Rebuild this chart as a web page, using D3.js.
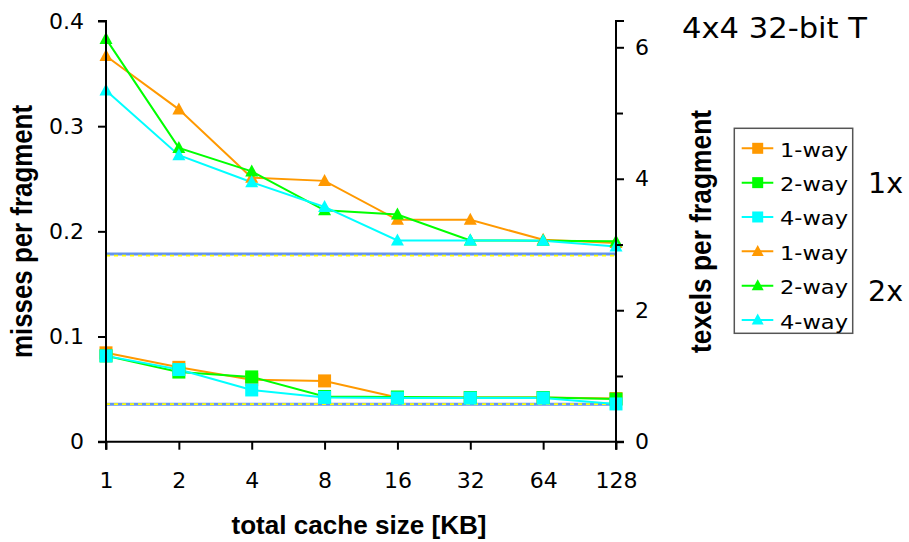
<!DOCTYPE html>
<html><head><meta charset="utf-8">
<script src="https://cdn.jsdelivr.net/npm/d3@7"></script>
<style>body{margin:0;background:#fff}svg{display:block}</style>
</head><body>
<svg id="chart" width="909" height="542"></svg>
<script>
const sizes = ["1","2","4","8","16","32","64","128"];
const sq1way = [0.0845, 0.0707, 0.059, 0.0578, 0.042, 0.042, 0.042, 0.041];
const sq2way = [0.0816, 0.0662, 0.0616, 0.043, 0.0425, 0.042, 0.042, 0.0405];
const sq4way = [0.0816, 0.0686, 0.0492, 0.0421, 0.0415, 0.0415, 0.0415, 0.0359];
const tri1way = [0.3667, 0.316, 0.251, 0.248, 0.211, 0.211, 0.192, 0.189];
const tri2way = [0.383, 0.2794, 0.257, 0.220, 0.216, 0.1914, 0.191, 0.1905];
const tri4way = [0.334, 0.2724, 0.2467, 0.2232, 0.1914, 0.1914, 0.191, 0.1857];
const blueRefs = [0.1785, 0.0356];
const yellowRefs = [0.1769, 0.0357];
const leftTicks = [0, 0.1, 0.2, 0.3, 0.4];
const rightTicks = [0, 2, 4, 6];
const rightMinor = [1, 3, 5];
const legendLabels = ["1-way","2-way","4-way","1-way","2-way","4-way"];

const colors = ["#FF9900", "#00FF00", "#00FFFF"];
const svg = d3.select("#chart");
const L = 106, R = 616, T = 21, B = 441.7;

const x = d3.scalePoint().domain(sizes).range([L, R]).padding(0);
const yL = d3.scaleLinear().domain([0, 0.4]).range([B, T]);
const yR = d3.scaleLinear().domain([0, 6.4]).range([B, T]);

// reference lines
blueRefs.forEach(v => svg.append("line").attr("x1", L).attr("x2", R)
  .attr("y1", yL(v)).attr("y2", yL(v)).attr("stroke", "#6495ED").attr("stroke-width", 3));
yellowRefs.forEach(v => svg.append("line").attr("x1", L).attr("x2", R)
  .attr("y1", yL(v)).attr("y2", yL(v)).attr("stroke", "#FFFF00").attr("stroke-width", 1.8)
  .attr("stroke-dasharray", "4,4"));

const sqSeries = [sq1way, sq2way, sq4way];
const triSeries = [tri1way, tri2way, tri4way];
const line = d3.line().x((d, i) => x(sizes[i])).y(d => yL(d));

[...sqSeries, ...triSeries].forEach((s, k) => {
  svg.append("path").attr("d", line(s)).attr("fill", "none")
    .attr("stroke", colors[k % 3]).attr("stroke-width", 2);
});

const triPath = (w, h) => `M0,${-h * 0.58}L${w / 2},${h * 0.42}L${-w / 2},${h * 0.42}Z`;

sqSeries.forEach((s, k) => {
  svg.append("g").selectAll("rect").data(s).join("rect")
    .attr("x", (d, i) => x(sizes[i]) - 6.5).attr("y", d => yL(d) - 6.5)
    .attr("width", 13).attr("height", 13).attr("fill", colors[k]);
});
triSeries.forEach((s, k) => {
  svg.append("g").selectAll("path").data(s).join("path")
    .attr("transform", (d, i) => `translate(${x(sizes[i])},${yL(d)})`)
    .attr("d", triPath(13, 12)).attr("fill", colors[k]);
});

// axes
const tickFont = "'DejaVu Sans', sans-serif";
const axL = svg.append("g").attr("transform", `translate(${L},0)`)
  .call(d3.axisLeft(yL).tickValues(leftTicks).tickFormat(d => d === 0 ? "0" : d3.format(".1f")(d))
    .tickSize(8).tickPadding(14));
const axR = svg.append("g").attr("transform", `translate(${R},0)`)
  .call(d3.axisRight(yR).tickValues(rightTicks).tickFormat(d3.format("d")).tickSize(8).tickPadding(11));
svg.append("g").attr("transform", `translate(${R},0)`)
  .call(d3.axisRight(yR).tickValues(rightMinor).tickFormat("").tickSize(7))
  .call(g => g.select(".domain").remove());
const axB = svg.append("g").attr("transform", `translate(0,${B})`)
  .call(d3.axisBottom(x).tickSize(8).tickPadding(23));
[axL, axR, axB].forEach(g => {
  g.selectAll("text").attr("font-family", tickFont).attr("font-size", 22).attr("fill", "#000");
});
axL.select(".domain").attr("d", `M-8,${T}H0V${B}H-8`);
axR.select(".domain").attr("d", `M8,${T}H0V${B}H8`);
axB.select(".domain").attr("d", `M${L},8V0H${R}V8`);
svg.selectAll(".tick line").attr("stroke", "#000").attr("stroke-width", 2);
svg.selectAll(".domain").attr("stroke", "#000").attr("stroke-width", 2);

// axis titles
const boldFont = "'Liberation Sans', Arial, sans-serif";
svg.append("text").attr("transform", "translate(32,231.5) rotate(-90)")
  .attr("text-anchor", "middle").attr("font-family", boldFont).attr("font-weight", "bold")
  .attr("font-size", 30).attr("textLength", 253).attr("lengthAdjust", "spacingAndGlyphs")
  .text("misses per fragment");
svg.append("text").attr("transform", "translate(711,231.5) rotate(-90)")
  .attr("text-anchor", "middle").attr("font-family", boldFont).attr("font-weight", "bold")
  .attr("font-size", 30).attr("textLength", 243).attr("lengthAdjust", "spacingAndGlyphs")
  .text("texels per fragment");
svg.append("text").attr("x", 359).attr("y", 534)
  .attr("text-anchor", "middle").attr("font-family", boldFont).attr("font-weight", "bold")
  .attr("font-size", 26).attr("textLength", 255).attr("lengthAdjust", "spacingAndGlyphs")
  .text("total cache size [KB]");

// title and group labels
const plainFont = "'DejaVu Sans', sans-serif";
svg.append("text").attr("x", 682).attr("y", 38).attr("font-family", plainFont)
  .attr("font-size", 27.5).attr("textLength", 185).attr("lengthAdjust", "spacingAndGlyphs")
  .text("4x4 32-bit T");
[["1x", 193], ["2x", 300.5]].forEach(([t, yy]) => svg.append("text").attr("x", 868).attr("y", yy)
  .attr("font-family", plainFont).attr("font-size", 27.5).attr("textLength", 35)
  .attr("lengthAdjust", "spacingAndGlyphs").text(t));

// legend
const lg = svg.append("g");
lg.append("rect").attr("x", 734.3).attr("y", 128.3).attr("width", 118.4).attr("height", 205)
  .attr("fill", "#fff").attr("stroke", "#555").attr("stroke-width", 1.5);
legendLabels.forEach((lab, i) => {
  const cy = 148.3 + i * 34.34;
  const c = colors[i % 3];
  lg.append("line").attr("x1", 741.7).attr("x2", 773.3).attr("y1", cy).attr("y2", cy)
    .attr("stroke", c).attr("stroke-width", 2);
  if (i < 3) {
    lg.append("rect").attr("x", 757.7 - 5.5).attr("y", cy - 5.5).attr("width", 11).attr("height", 11).attr("fill", c);
  } else {
    lg.append("path").attr("transform", `translate(757.7,${cy})`).attr("d", triPath(12, 11)).attr("fill", c);
  }
  lg.append("text").attr("x", 780).attr("y", cy + 8.5).attr("font-family", plainFont)
    .attr("font-size", 19.5).attr("textLength", 68).attr("lengthAdjust", "spacingAndGlyphs").text(lab);
});
</script>
</body></html>
